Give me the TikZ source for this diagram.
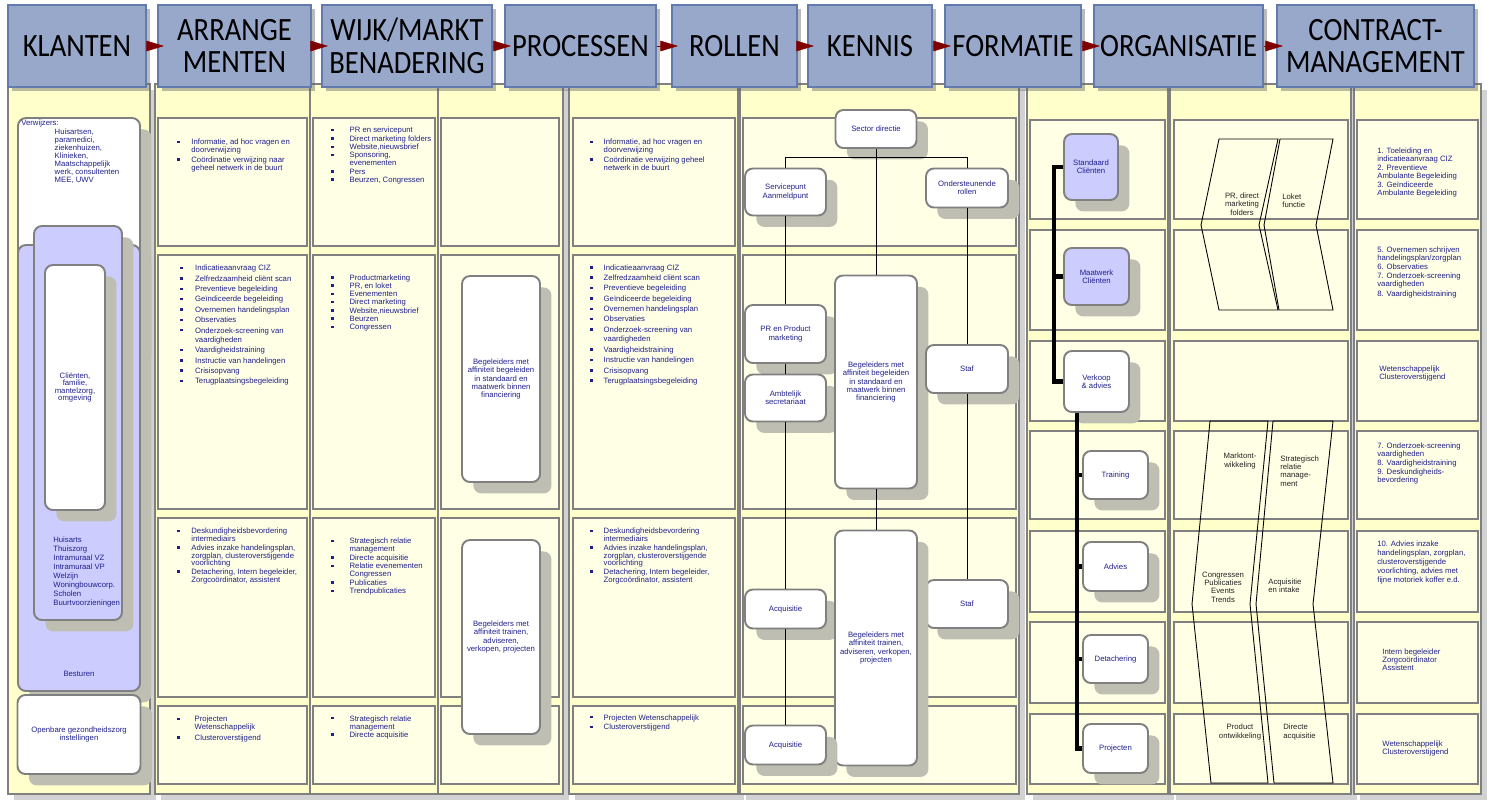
\documentclass[tikz,border=0pt]{standalone}
\usepackage{fontspec}
\setmainfont{Liberation Sans}
\newfontfamily\headfont[FakeStretch=0.88]{Carlito}
\usetikzlibrary{arrows.meta,shadows,positioning}
\definecolor{headfill}{RGB}{151,168,203}
\definecolor{headline}{RGB}{98,122,172}
\definecolor{panelfill}{RGB}{255,255,204}
\definecolor{rowfill}{RGB}{255,255,230}
\definecolor{rowline}{RGB}{128,128,128}
\definecolor{shade}{RGB}{190,190,178}
\definecolor{lavender}{RGB}{204,204,255}
\definecolor{navy}{RGB}{32,32,140}
\definecolor{ink}{RGB}{35,35,35}
\definecolor{darkred}{RGB}{128,0,0}

% square bullet lists
\newcommand{\bul}{\rule[0.9pt]{1.4pt}{1.4pt}}
\newcommand{\itm}[1]{\bul & #1\\[\ig]}
\newcommand{\blist}[1]{\begin{tabular}{@{}l@{\hspace{\bg}}l@{}}#1\end{tabular}}

\begin{document}
\begin{tikzpicture}[x=0.02cm, y=-0.02cm,
    wh/.style 2 args={minimum width=#1*0.02cm, minimum height=#2*0.02cm},
    head/.style={draw=headline, line width=1.2pt, fill=headfill, align=center, inner sep=0pt,
      font=\headfont\fontsize{18.5}{18.7}\selectfont,
      drop shadow={shadow xshift=2.5pt, shadow yshift=-2.5pt, fill=black!60, opacity=0.45}},
    hdarrow/.style={darkred, line width=0.3pt, -{Triangle[length=10pt, width=6pt]}},
    panel/.style={draw=rowline, line width=1.4pt, fill=panelfill,
      drop shadow={shadow xshift=3.5pt, shadow yshift=-3.5pt, fill=gray!35, opacity=1}},
    rowbox/.style={draw=rowline, line width=1.4pt, fill=rowfill},
    rbox/.style={draw=rowline, line width=1.1pt, fill=white, rounded corners=4.5pt, inner sep=0pt,
      align=center, text=navy, font=\fontsize{4.4}{4.8}\selectfont,
      drop shadow={shadow xshift=6.5pt, shadow yshift=-6.5pt, fill=shade, opacity=1}},
    txt/.style={text=navy, inner sep=0pt, align=left, font=\fontsize{4.4}{#1}\selectfont},
    txt/.default={4.6pt},
    lst/.style n args={3}{anchor=north west, inner sep=0pt, text=navy, font=\fontsize{4.4}{#1}\selectfont,
      execute at begin node={\def\ig{#2}\def\bg{#3}}},
    ftxt/.style={text=ink, inner sep=0pt, font=\fontsize{4.4}{4.8}\selectfont},
    chev/.style={draw=black, line width=0.5pt},
    orgline/.style={draw=black, line width=0.5pt},
    bus/.style={draw=black, line width=2.3pt}]
  \useasboundingbox (0,0) rectangle (1490,802);

  % Column panels
  \foreach \x/\X in {8/150, 155/310, 310/438, 438/563, 569/738, 740/1019, 1027/1168, 1170/1351, 1354/1481}
    \draw[panel] (\x,84) rectangle (\X,794);

  % Row boxes, left part
  \foreach \x/\X in {158/307, 313/435, 441/559, 573/735, 743/1016}
    \foreach \y/\Y in {118/246, 255/509, 518/697, 706/784}
      \draw[rowbox] (\x,\y) rectangle (\X,\Y);
  % Row boxes, right part
  \foreach \x/\X in {1030/1165, 1174/1348, 1357/1478}
    \foreach \y/\Y in {120/219, 230/330, 341/421, 431/519, 531/612, 622/703, 714/784}
      \draw[rowbox] (\x,\y) rectangle (\X,\Y);

  % Header boxes
  \foreach \n/\c/\w/\t in {klanten/77/138/KLANTEN, arrange/234.5/153/{ARRANGE\\MENTEN},
      wijk/407/170/{WIJK/MARKT\\BENADERING}, proces/580.5/151/PROCESSEN, rollen/734.5/125/ROLLEN,
      kennis/870/124/KENNIS, formatie/1013/136/FORMATIE, organisatie/1178.5/169/ORGANISATIE,
      contract/1375.5/197/{CONTRACT-\\MANAGEMENT}}
    \node[head, wh={\w}{82}] (\n) at (\c,46) {\t};
  \foreach \a/\b in {klanten/arrange, arrange/wijk, wijk/proces, proces/rollen, rollen/kennis,
      kennis/formatie, formatie/organisatie, organisatie/contract}
    \draw[hdarrow] (\a.east) -- ([xshift=4pt]\b.west);

  % Klanten
  \node[rbox, wh={122}{232}] (verw) at (79,234) {};
  \node[rbox, fill=lavender, wh={122}{446}] (bestu) at (79,468) {};
  \node[rbox, fill=lavender, wh={88}{394}] (partn) at (78,423) {};
  \node[rbox, wh={60}{245}, font=\fontsize{4.4}{4.3}\selectfont] (clnt) at (75,387.5) {Cliënten,\\familie,\\mantelzorg,\\omgeving};
  \node[rbox, wh={123}{79}] (ggz) at (79,734.5) {Openbare gezondheidszorg\\instellingen};
  \node[txt, anchor=north west] (verwtxt) at (21,120) {Verwijzers:\\\hspace*{19pt}Huisartsen,\\\hspace*{19pt}paramedici,\\\hspace*{19pt}ziekenhuizen,\\\hspace*{19pt}Klinieken,\\\hspace*{19pt}Maatschappelijk\\\hspace*{19pt}werk, consultenten\\\hspace*{19pt}MEE, UWV};
  \node[txt=5.1pt, anchor=north west] (partntxt) at (53,537) {Huisarts\\Thuiszorg\\Intramuraal VZ\\Intramuraal VP\\Welzijn\\Woningbouwcorp.\\Scholen\\Buurtvoorzieningen};
  \node[txt] (besttxt) at (79,674) {Besturen};

  % Arrangementen
  \node[lst={4.3pt}{1pt}{6.6pt}] (arr-1) at (177,139) {\blist{\itm{Informatie, ad hoc vragen en\\ & doorverwijzing}\itm{Coördinatie verwijzing naar\\ & geheel netwerk in de buurt}}};
  \node[lst={5.3pt}{0.6pt}{7pt}] (arr-2) at (180,264) {\blist{\itm{Indicatieaanvraag CIZ}\itm{Zelfredzaamheid cliënt scan}\itm{Preventieve begeleiding}\itm{Geïndiceerde begeleiding}\itm{Overnemen handelingsplan}\itm{Observaties}\itm{Onderzoek-screening van\\ & vaardigheden}\itm{Vaardigheidstraining}\itm{Instructie van handelingen}\itm{Crisisopvang}\itm{Terugplaatsingsbegeleiding}}};
  \node[lst={4.3pt}{0.3pt}{6.6pt}] (arr-3) at (177,528) {\blist{\itm{Deskundigheidsbevordering\\ & intermediairs}\itm{Advies inzake handelingsplan,\\ & zorgplan, clusteroverstijgende\\ & voorlichting}\itm{Detachering, Intern begeleider,\\ & Zorgcoördinator, assistent}}};
  \node[lst={4.3pt}{1.5pt}{8.5pt}] (arr-4) at (177,716) {\blist{\itm{Projecten\\ & Wetenschappelijk}\itm{Clusteroverstijgend}}};

  % Wijk/markt
  \node[lst={4.5pt}{0.2pt}{9pt}] (wijk-1) at (331,127) {\blist{\itm{PR en servicepunt}\itm{Direct marketing folders}\itm{Website,nieuwsbrief}\itm{Sponsoring,\\ & evenementen}\itm{Pers}\itm{Beurzen, Congressen}}};
  \node[lst={4.7pt}{0pt}{9pt}] (wijk-2) at (331,274) {\blist{\itm{Productmarketing}\itm{PR, en loket}\itm{Evenementen}\itm{Direct marketing}\itm{Website,nieuwsbrief}\itm{Beurzen}\itm{Congressen}}};
  \node[lst={4.5pt}{0.3pt}{9pt}] (wijk-3) at (331,538) {\blist{\itm{Strategisch relatie\\ & management}\itm{Directe acquisitie}\itm{Relatie evenementen\\ & Congressen}\itm{Publicaties}\itm{Trendpublicaties}}};
  \node[lst={4.6pt}{0.2pt}{9pt}] (wijk-4) at (331,715) {\blist{\itm{Strategisch relatie\\ & management}\itm{Directe acquisitie}}};
  \node[rbox, wh={78}{206}] (beg-1) at (501,379) {Begeleiders met\\affiniteit begeleiden\\in standaard en\\maatwerk binnen\\financiering};
  \node[rbox, wh={78}{194}] (beg-2) at (501,637) {Begeleiders met\\affiniteit trainen,\\adviseren,\\verkopen, projecten};

  % Processen
  \node[lst={4.3pt}{1pt}{6.2pt}] (proc-1) at (590,139) {\blist{\itm{Informatie, ad hoc vragen en\\ & doorverwijzing}\itm{Coördinatie verwijzing geheel\\ & netwerk in de buurt}}};
  \node[lst={5.5pt}{0.4pt}{6.2pt}] (proc-2) at (590,263) {\blist{\itm{Indicatieaanvraag CIZ}\itm{Zelfredzaamheid cliënt scan}\itm{Preventieve begeleiding}\itm{Geïndiceerde begeleiding}\itm{Overnemen handelingsplan}\itm{Observaties}\itm{Onderzoek-screening van\\ & vaardigheden}\itm{Vaardigheidstraining}\itm{Instructie van handelingen}\itm{Crisisopvang}\itm{Terugplaatsingsbegeleiding}}};
  \node[lst={4.3pt}{0.3pt}{6.2pt}] (proc-3) at (590,528) {\blist{\itm{Deskundigheidsbevordering\\ & intermediairs}\itm{Advies inzake handelingsplan,\\ & zorgplan, clusteroverstijgende\\ & voorlichting}\itm{Detachering, Intern begeleider,\\ & Zorgcoördinator, assistent}}};
  \node[lst={4.6pt}{1pt}{6.2pt}] (proc-4) at (590,714) {\blist{\itm{Projecten Wetenschappelijk}\itm{Clusteroverstijgend}}};

  % Rollen / kennis
  \node[rbox, wh={81}{38}] (sector) at (876,129) {Sector directie};
  \node[rbox, wh={81}{47}] (service) at (785.5,192) {Servicepunt\\Aanmeldpunt};
  \node[rbox, wh={82}{39}] (onder) at (967,188) {Ondersteunende\\rollen};
  \node[rbox, wh={81}{58}] (prprod) at (785.5,334) {PR en Product\\marketing};
  \node[rbox, wh={81}{47}] (ambt) at (785.5,398) {Ambtelijk\\secretariaat};
  \node[rbox, wh={82}{213}] (begk-1) at (876,382) {Begeleiders met\\affiniteit begeleiden\\in standaard en\\maatwerk binnen\\financiering};
  \node[rbox, wh={82}{48}] (staf-1) at (967,369) {Staf};
  \node[rbox, wh={81}{39}] (acq-1) at (785.5,609) {Acquisitie};
  \node[rbox, wh={82}{48}] (staf-2) at (967,604) {Staf};
  \node[rbox, wh={82}{235}] (begk-2) at (876,648) {Begeleiders met\\affiniteit trainen,\\adviseren, verkopen,\\projecten};
  \node[rbox, wh={81}{39}] (acq-2) at (785.5,745) {Acquisitie};
  \draw[orgline] (service.north) -- ++(0,-10) -| (onder.north);
  \draw[orgline] (sector) -- (begk-1);
  \foreach \a/\b in {service/prprod, prprod/ambt, ambt/acq-1, acq-1/acq-2, onder/staf-1, staf-1/staf-2, begk-1/begk-2}
    \draw[orgline] (\a) -- (\b);

  % Organisatie
  \node[rbox, fill=lavender, wh={54}{66}] (std) at (1091,167) {Standaard\\Cliënten};
  \node[rbox, fill=lavender, wh={65}{57}] (mwk) at (1096.5,276.5) {Maatwerk\\Cliënten};
  \node[rbox, wh={65}{61}] (vka) at (1096.5,381.5) {Verkoop\\\& advies};
  \node[rbox, wh={65}{48}] (trn) at (1115.5,475) {Training};
  \node[rbox, wh={65}{49}] (adv) at (1115.5,566.5) {Advies};
  \node[rbox, wh={65}{48}] (det) at (1115.5,659) {Detachering};
  \node[rbox, wh={65}{49}] (prj) at (1115.5,748.5) {Projecten};
  \draw[bus] (std.west) -- ++(-9,0) |- (vka.west);
  \draw[bus] (mwk.west) -- ++(-9,0);
  \draw[bus] ([xshift=-3pt]prj.west |- vka.south) |- (prj.west);
  \foreach \n in {trn, adv, det}
    \draw[bus] (\n.west) -- ++(-5,0);

  % Formatie
  \draw[chev] (1219,139) -- (1278,139) -- (1259,225) -- (1278,310) -- (1219,310) -- (1201,225) -- cycle;
  \draw[chev] (1280,139) -- (1333,139) -- (1316,225) -- (1333,310) -- (1279,310) -- (1264,225) -- cycle;
  \draw[chev] (1210,421) -- (1268,421) -- (1250,604) -- (1268,783) -- (1211,783) -- (1192,604) -- cycle;
  \draw[chev] (1273,421) -- (1333,421) -- (1313,604) -- (1333,783) -- (1274,783) -- (1256,604) -- cycle;
  \node[ftxt, align=center] (fm-1) at (1242,204) {PR, direct\\marketing\\folders};
  \node[ftxt, align=left, anchor=west] (fm-2) at (1282,201) {Loket\\functie};
  \node[ftxt, align=center] (fm-3) at (1240,461) {Marktont-\\wikkeling};
  \node[ftxt, align=left, anchor=west] (fm-4) at (1280,471) {Strategisch\\relatie\\manage-\\ment};
  \node[ftxt, align=center] (fm-5) at (1223,587) {Congressen\\Publicaties\\Events\\Trends};
  \node[ftxt, align=left, anchor=west] (fm-6) at (1268,586) {Acquisitie\\en intake};
  \node[ftxt, align=center] (fm-7) at (1240,732) {Product\\ontwikkeling};
  \node[ftxt, align=left, anchor=west] (fm-8) at (1283,732) {Directe\\acquisitie};

  % Contractmanagement
  \node[txt=4.5pt, anchor=north west] (cm-1) at (1377,148) {1. Toeleiding en\\indicatieaanvraag CIZ\\[0.6pt]2. Preventieve\\Ambulante Begeleiding\\[0.6pt]3. Geïndiceerde\\Ambulante Begeleiding};
  \node[txt=4.5pt, anchor=north west] (cm-2) at (1377,247) {5. Overnemen schrijven\\handelingsplan/zorgplan\\[0.6pt]6. Observaties\\[0.6pt]7. Onderzoek-screening\\vaardigheden\\[1pt]8. Vaardigheidstraining};
  \node[txt=4.5pt, anchor=north west] (cm-3) at (1379,366) {Wetenschappelijk\\Clusteroverstijgend};
  \node[txt=4.5pt, anchor=north west] (cm-4) at (1377,443) {7. Onderzoek-screening\\vaardigheden\\[0.6pt]8. Vaardigheidstraining\\[0.6pt]9. Deskundigheids-\\bevordering};
  \node[txt=5pt, anchor=north west] (cm-5) at (1377,541) {10. Advies inzake\\handelingsplan, zorgplan,\\clusteroverstijgende\\voorlichting, advies met\\fijne motoriek koffer e.d.};
  \node[txt=4.5pt, anchor=north west] (cm-6) at (1382,649) {Intern begeleider\\Zorgcoördinator\\Assistent};
  \node[txt=4.5pt, anchor=north west] (cm-7) at (1382,741) {Wetenschappelijk\\Clusteroverstijgend};
\end{tikzpicture}
\end{document}
